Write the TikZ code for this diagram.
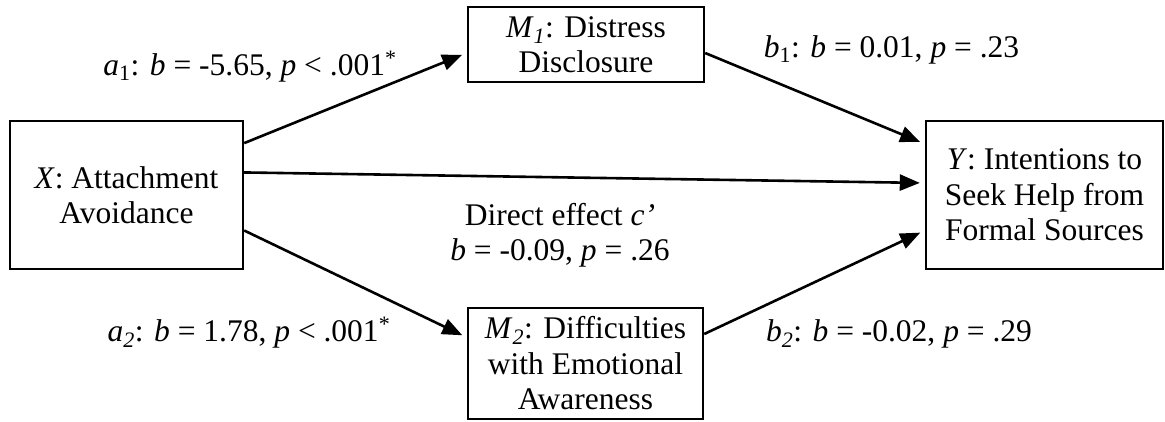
\documentclass[tikz,border=0pt]{standalone}
\usepackage{fontspec}
\setmainfont{Liberation Serif}
\usetikzlibrary{arrows.meta,calc}
\newcommand\bigfnt{\fontsize{31.5}{35.5}\selectfont}
\begin{document}
\begin{tikzpicture}[x=1pt,y=-1pt,
  box/.style={draw,line width=2.4pt,inner sep=0pt,align=center,font=\bigfnt},
  lab/.style={inner sep=0pt,font=\bigfnt,anchor=base},
  arr/.style={line width=2.6pt,-{Triangle[length=20pt,width=16pt]},shorten >=5pt}]
\useasboundingbox (0,0) rectangle (1165,421);
\node[box,minimum width=233pt,minimum height=148pt] (X) at (126.5,195)
  {\textit{X}: Attachment\\Avoidance};
\node[box,minimum width=236pt,minimum height=75pt] (M1) at (586,44.5)
  {\textit{M}\textsubscript{\textit{1}}: Distress\\Disclosure};
\node[box,minimum width=235pt,minimum height=111pt] (M2) at (585.5,363.5)
  {\textit{M}\textsubscript{\textit{2}}: Difficulties\\with Emotional\\Awareness};
\node[box,minimum width=237pt,minimum height=148pt] (Y) at (1044.5,195)
  {\textit{Y}: Intentions to\\Seek Help from\\Formal Sources};
\draw[arr] ($(X.north east)!0.155!(X.south east)$) -- ($(M1.north west)!0.61!(M1.south west)$);
\draw[arr] ($(M1.north east)!0.61!(M1.south east)$) -- ($(Y.north west)!0.16!(Y.south west)$);
\draw[arr] ($(X.north east)!0.35!(X.south east)$) -- ($(Y.north west)!0.42!(Y.south west)$);
\draw[arr] ($(X.north east)!0.736!(X.south east)$) -- ($(M2.north west)!0.27!(M2.south west)$);
\draw[arr] ($(M2.north east)!0.24!(M2.south east)$) -- ($(Y.north west)!0.736!(Y.south west)$);
\node[lab] (la1) at (250,75) {\textit{a}\textsubscript{1}: \textit{b} = -5.65, \textit{p} < .001\textsuperscript{*}};
\node[lab] (lb1) at (891.5,57) {\textit{b}\textsubscript{1}: \textit{b} = 0.01, \textit{p} = .23};
\node[lab] (ld1) at (560,225) {Direct effect \textit{c'}};
\node[lab] (ld2) at (560,260) {\textit{b} = -0.09, \textit{p} = .26};
\node[lab] (la2) at (249,341) {\textit{a}\textsubscript{\textit{2}}: \textit{b} = 1.78, \textit{p} < .001\textsuperscript{*}};
\node[lab] (lb2) at (899,341) {\textit{b}\textsubscript{\textit{2}}: \textit{b} = -0.02, \textit{p} = .29};
\end{tikzpicture}
\end{document}
